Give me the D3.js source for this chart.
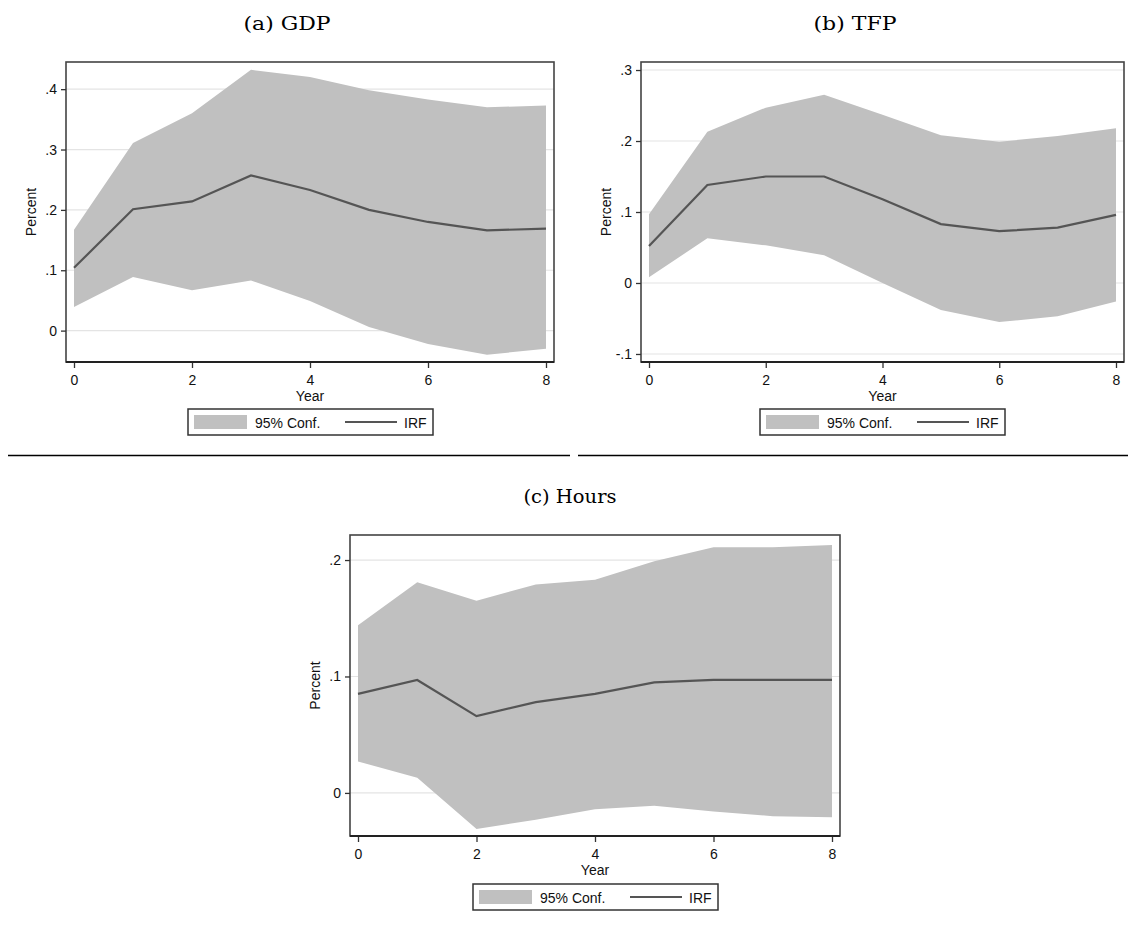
<!DOCTYPE html>
<html>
<head>
<meta charset="utf-8">
<script src="https://cdn.jsdelivr.net/npm/d3@7"></script>
<style>
  body { margin: 0; background: #fff; }
  svg { display: block; }
  .tick text { font-family: "Liberation Sans", Arial, sans-serif; }
</style>
</head>
<body>
<svg id="chart" width="1128" height="925"></svg>
<script>
// ---------- data ----------
const years = [0, 1, 2, 3, 4, 5, 6, 7, 8];
const xTicks = [0, 2, 4, 6, 8];

const gdpIRF   = [0.104, 0.201, 0.214, 0.257, 0.233, 0.200, 0.180, 0.166, 0.169];
const gdpUpper = [0.167, 0.311, 0.360, 0.432, 0.420, 0.398, 0.383, 0.370, 0.373];
const gdpLower = [0.039, 0.089, 0.067, 0.083, 0.049, 0.006, -0.022, -0.040, -0.030];
const gdpTicks = [0, 0.1, 0.2, 0.3, 0.4];
const gdpTickLabels = ["0", ".1", ".2", ".3", ".4"];

const tfpIRF   = [0.052, 0.138, 0.150, 0.150, 0.118, 0.083, 0.073, 0.078, 0.096];
const tfpUpper = [0.097, 0.213, 0.247, 0.265, 0.237, 0.208, 0.199, 0.207, 0.218];
const tfpLower = [0.008, 0.063, 0.053, 0.039, 0.000, -0.038, -0.055, -0.047, -0.026];
const tfpTicks = [-0.1, 0, 0.1, 0.2, 0.3];
const tfpTickLabels = ["-.1", "0", ".1", ".2", ".3"];

const hoursIRF   = [0.085, 0.097, 0.066, 0.078, 0.085, 0.095, 0.097, 0.097, 0.097];
const hoursUpper = [0.144, 0.181, 0.165, 0.179, 0.183, 0.199, 0.211, 0.211, 0.213];
const hoursLower = [0.027, 0.013, -0.031, -0.023, -0.014, -0.011, -0.016, -0.020, -0.021];
const hoursTicks = [0, 0.1, 0.2];
const hoursTickLabels = ["0", ".1", ".2"];

const titles = ["(a) GDP", "(b) TFP", "(c) Hours"];
const legendLabels = ["95% Conf.", "IRF"];
const xLabel = "Year";
const yLabel = "Percent";

// ---------- layout ----------
const panels = [
  { title: titles[0], irf: gdpIRF, up: gdpUpper, lo: gdpLower, ticks: gdpTicks, labels: gdpTickLabels,
    box: { l: 66, r: 554, t: 62, b: 362 }, yDom: [-0.052, 0.445], titleX: 287, titleY: 30, titleW: 87,
    legend: { x: 188, y: 409 } },
  { title: titles[1], irf: tfpIRF, up: tfpUpper, lo: tfpLower, ticks: tfpTicks, labels: tfpTickLabels,
    box: { l: 641, r: 1124, t: 62, b: 362 }, yDom: [-0.1113, 0.3113], titleX: 855, titleY: 30, titleW: 83,
    legend: { x: 760, y: 409 } },
  { title: titles[2], irf: hoursIRF, up: hoursUpper, lo: hoursLower, ticks: hoursTicks, labels: hoursTickLabels,
    box: { l: 350, r: 840, t: 535, b: 836 }, yDom: [-0.037, 0.2215], titleX: 570, titleY: 503, titleW: 93,
    legend: { x: 473, y: 884 } }
];

const svg = d3.select("#chart");
const sans = '"Liberation Sans", Arial, sans-serif';
const serif = '"DejaVu Serif", "Liberation Serif", serif';
const ink = "#111";

// separator rules
svg.append("line").attr("x1", 8).attr("x2", 570).attr("y1", 455.5).attr("y2", 455.5)
  .attr("stroke", "#000").attr("stroke-width", 1.6);
svg.append("line").attr("x1", 578).attr("x2", 1128).attr("y1", 455.5).attr("y2", 455.5)
  .attr("stroke", "#000").attr("stroke-width", 1.6);

panels.forEach(p => {
  const g = svg.append("g");
  const x0 = p.box.l + 8, x1 = p.box.r - 8;
  const x = d3.scaleLinear().domain([0, 8]).range([x0, x1]);
  const y = d3.scaleLinear().domain(p.yDom).range([p.box.b, p.box.t]);

  // title
  svg.append("text").attr("x", p.titleX).attr("y", p.titleY).attr("text-anchor", "middle")
    .attr("font-family", serif).attr("font-size", 19).attr("fill", "#000")
    .attr("textLength", p.titleW).attr("lengthAdjust", "spacingAndGlyphs").text(p.title);

  // gridlines
  g.selectAll("line.grid").data(p.ticks).join("line")
    .attr("x1", p.box.l).attr("x2", p.box.r)
    .attr("y1", d => y(d)).attr("y2", d => y(d))
    .attr("stroke", "#e4e4e4").attr("stroke-width", 1.2);

  // band
  const area = d3.area().x((d, i) => x(years[i])).y0((d, i) => y(p.lo[i])).y1((d, i) => y(p.up[i]));
  g.append("path").datum(p.up).attr("d", area).attr("fill", "#c0c0c0");

  // IRF line
  const line = d3.line().x((d, i) => x(years[i])).y(d => y(d));
  g.append("path").datum(p.irf).attr("d", line).attr("fill", "none")
    .attr("stroke", "#555").attr("stroke-width", 2.2);

  // box
  g.append("rect").attr("x", p.box.l).attr("y", p.box.t)
    .attr("width", p.box.r - p.box.l).attr("height", p.box.b - p.box.t)
    .attr("fill", "none").attr("stroke", "#444").attr("stroke-width", 1.6);

  // y axis
  const yAxis = d3.axisLeft(y).tickValues(p.ticks).tickFormat((d, i) => p.labels[i]).tickSize(5).tickPadding(4);
  const ya = g.append("g").attr("transform", `translate(${p.box.l},0)`).call(yAxis);
  ya.select(".domain").remove();
  ya.selectAll(".tick line").attr("stroke", "#333").attr("stroke-width", 1.3);
  ya.selectAll(".tick text").attr("font-size", 14).attr("fill", ink);

  // x axis
  const xAxis = d3.axisBottom(x).tickValues(xTicks).tickFormat(d3.format("d")).tickSize(6).tickPadding(7);
  const xa = g.append("g").attr("transform", `translate(0,${p.box.b})`).call(xAxis);
  xa.select(".domain").remove();
  xa.selectAll(".tick line").attr("stroke", "#333").attr("stroke-width", 1.3);
  xa.selectAll(".tick text").attr("font-size", 14).attr("fill", ink);
  g.append("line").attr("x1", p.box.l).attr("x2", p.box.r).attr("y1", p.box.b).attr("y2", p.box.b)
    .attr("stroke", "#222").attr("stroke-width", 2.2);

  // axis titles
  g.append("text").attr("x", x(4)).attr("y", p.box.b + 39).attr("text-anchor", "middle")
    .attr("font-family", sans).attr("font-size", 14).attr("fill", ink).text(xLabel);
  const ym = (p.box.t + p.box.b) / 2;
  g.append("text").attr("transform", `translate(${p.box.l - 30},${ym}) rotate(-90)`)
    .attr("text-anchor", "middle").attr("font-family", sans).attr("font-size", 14)
    .attr("fill", ink).text(yLabel);

  // legend
  const lg = g.append("g").attr("transform", `translate(${p.legend.x},${p.legend.y})`);
  lg.append("rect").attr("x", 0).attr("y", 0).attr("width", 245).attr("height", 26)
    .attr("fill", "#fff").attr("stroke", "#333").attr("stroke-width", 1.5);
  lg.append("rect").attr("x", 6).attr("y", 6).attr("width", 53).attr("height", 14).attr("fill", "#c0c0c0");
  lg.append("text").attr("x", 67).attr("y", 18.5).attr("font-family", sans).attr("font-size", 14)
    .attr("fill", ink).text(legendLabels[0]);
  lg.append("line").attr("x1", 157).attr("x2", 209).attr("y1", 13).attr("y2", 13)
    .attr("stroke", "#555").attr("stroke-width", 2);
  lg.append("text").attr("x", 216).attr("y", 18.5).attr("font-family", sans).attr("font-size", 14)
    .attr("fill", ink).text(legendLabels[1]);
});
</script>
</body>
</html>
